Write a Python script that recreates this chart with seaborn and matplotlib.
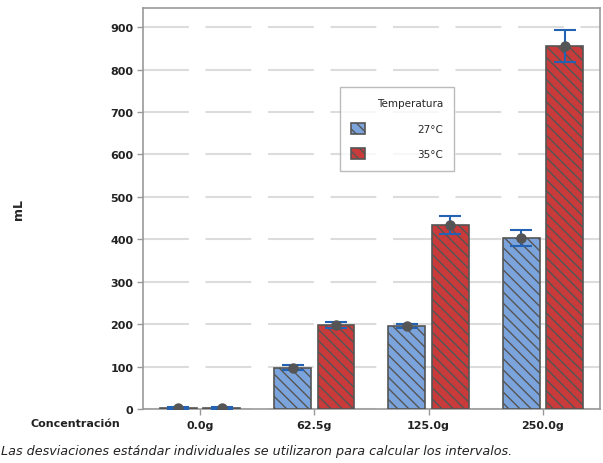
import matplotlib
matplotlib.use("Agg")
import matplotlib.pyplot as plt
import seaborn as sns
import pandas as pd
import numpy as np

concentraciones = ["0.0g", "62.5g", "125.0g", "250.0g"]
temperaturas = ["27°C", "35°C"]
media_27 = [2, 97, 195, 403]
media_35 = [2, 198, 434, 855]
err_27 = [2, 6, 5, 18]
err_35 = [2, 6, 21, 38]
y_ticks = [0, 100, 200, 300, 400, 500, 600, 700, 800, 900]

sns.set_theme(style="white")
plt.rcParams['font.family'] = ['DejaVu Sans']
plt.rcParams['hatch.linewidth'] = 1.0

rows = []
for i, c in enumerate(concentraciones):
    rows.append({"Concentracion": c, "Temperatura": temperaturas[0], "mL": media_27[i]})
    rows.append({"Concentracion": c, "Temperatura": temperaturas[1], "mL": media_35[i]})
df = pd.DataFrame(rows)

fig = plt.figure(figsize=(6.03, 4.64), dpi=100)
ax = fig.add_axes([0.237, 0.1164, 0.758, 0.8642])

palette = {"27°C": "#7ba4dc", "35°C": "#c93a3a"}
sns.barplot(data=df, x="Concentracion", y="mL", hue="Temperatura", order=concentraciones,
            hue_order=temperaturas, palette=palette, errorbar=None, width=0.76, gap=0.15,
            edgecolor="#555555", linewidth=1.2, ax=ax, saturation=1, zorder=3)

for p in ax.patches:
    p.set_hatch("\\\\\\")
for hi, (means, errs) in enumerate([(media_27, err_27), (media_35, err_35)]):
    cont = ax.containers[hi]
    for j, p in enumerate(cont.patches):
        xc = p.get_x() + p.get_width() / 2
        ax.errorbar(xc, means[j], yerr=errs[j], color="#2462b4", capsize=8, capthick=1.5,
                    elinewidth=1.5, zorder=5, fmt="none")
        ax.plot(xc, means[j], "o", color="#555555", markersize=6.5, zorder=6)

ax.set_ylim(0, 945)
ax.set_xlim(-0.5, 3.5)
ax.set_yticks(y_ticks)
ax.set_yticklabels([str(t) for t in y_ticks], fontsize=8, fontweight="bold", color="#222222")
ax.set_xticklabels(concentraciones, fontsize=8, fontweight="bold", color="#222222")
ax.tick_params(axis="both", length=4, width=1, color="#999999", direction="out", pad=3)
ax.tick_params(axis="x", bottom=True, pad=4)
ax.tick_params(axis="y", left=True)
ax.yaxis.grid(True, color="#dcdcdc", linewidth=1.5, linestyle=(0, (22, 8)), zorder=0)
ax.set_axisbelow(True)
for s in ax.spines.values():
    s.set_color("#999999")
    s.set_linewidth(1.2)
ax.set_xlabel("")
ax.set_ylabel("mL", fontsize=9, fontweight="bold")
ax.yaxis.set_label_coords(-0.258, 0.5)

leg = ax.legend(title="Temperatura", loc="upper left", bbox_to_anchor=(0.431, 0.803),
                borderaxespad=0.0,
                fontsize=7.5, title_fontsize=7.5, frameon=True, fancybox=False,
                edgecolor="#aaaaaa", handlelength=1.3, handleheight=1.3,
                handletextpad=5.0, borderpad=1.1, labelspacing=1.35, alignment="right")
leg.get_frame().set_linewidth(1.0)
for t in leg.get_texts():
    t.set_ha("right")

fig.text(75 / 603, 1 - 424 / 464, "Concentración", fontsize=8, fontweight="bold",
         ha="center", va="center", color="#222222")
fig.text(0.002, 1 - 452 / 464,
         "Las desviaciones estándar individuales se utilizaron para calcular los intervalos.",
         fontsize=9.2, style="italic", ha="left", va="center", color="#222222")

fig.savefig("out.png", dpi=100)
